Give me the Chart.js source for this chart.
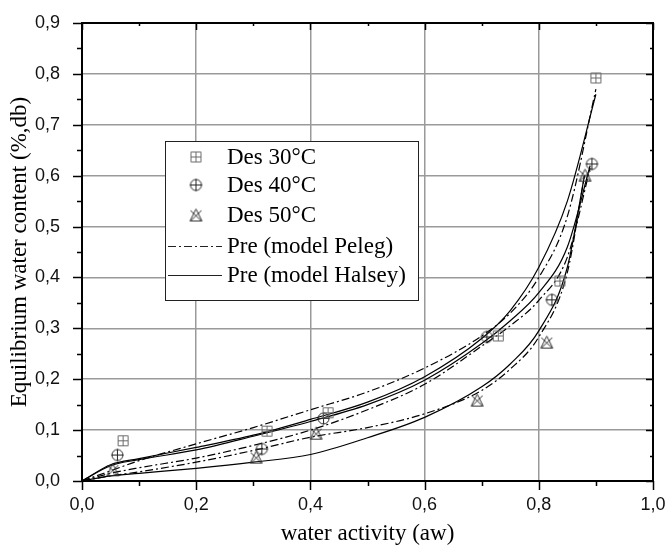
<!DOCTYPE html>
<html>
<head>
<meta charset="utf-8">
<script src="https://cdn.jsdelivr.net/npm/chart.js@4/dist/chart.umd.min.js"></script>
<style>
  html, body { margin: 0; padding: 0; background: #fff; }
  #wrap { width: 668px; height: 551px; }
</style>
</head>
<body>
<div id="wrap"><canvas id="sorption"></canvas></div>
<script>
// measured points (water activity vs. equilibrium water content)
const aw30 = [0.072, 0.324, 0.431, 0.729, 0.837, 0.900];
const ewc30 = [0.079, 0.098, 0.134, 0.285, 0.393, 0.792];
const aw40 = [0.062, 0.315, 0.423, 0.709, 0.823, 0.893];
const ewc40 = [0.051, 0.063, 0.123, 0.283, 0.356, 0.623];
const aw50 = [0.054, 0.305, 0.410, 0.692, 0.814, 0.881];
const ewc50 = [0.022, 0.047, 0.094, 0.159, 0.273, 0.601];

// model curves
const fitAw30 = [0, 0.05, 0.1, 0.2, 0.3, 0.4, 0.5, 0.6, 0.7, 0.75, 0.8, 0.85, 0.9];
const halsey30 = [0, 0.032, 0.044, 0.066, 0.09, 0.121, 0.155, 0.205, 0.28, 0.335, 0.42, 0.55, 0.76];
const peleg30 = [0, 0.02, 0.04, 0.073, 0.105, 0.14, 0.175, 0.222, 0.285, 0.33, 0.40, 0.52, 0.77];
const fitAw40 = [0, 0.05, 0.1, 0.2, 0.3, 0.4, 0.5, 0.6, 0.7, 0.75, 0.8, 0.85, 0.89];
const halsey40 = [0, 0.03, 0.042, 0.061, 0.088, 0.117, 0.15, 0.198, 0.27, 0.315, 0.37, 0.46, 0.62];
const peleg40 = [0, 0.015, 0.026, 0.045, 0.07, 0.1, 0.14, 0.19, 0.265, 0.305, 0.355, 0.44, 0.615];
const fitAw50 = [0, 0.05, 0.1, 0.2, 0.3, 0.4, 0.5, 0.6, 0.7, 0.75, 0.8, 0.85, 0.88];
const halsey50 = [0, 0.01, 0.015, 0.025, 0.037, 0.052, 0.085, 0.125, 0.185, 0.23, 0.295, 0.42, 0.6];
const peleg50 = [0, 0.01, 0.018, 0.037, 0.06, 0.086, 0.105, 0.132, 0.178, 0.22, 0.283, 0.41, 0.6];

const legendLabels = ['Des 30°C', 'Des 40°C', 'Des 50°C', 'Pre (model Peleg)', 'Pre (model Halsey)'];

const pairs = (xs, ys) => xs.map((x, i) => ({ x: x, y: ys[i] }));
const comma = v => Number(v).toFixed(1).replace('.', ',');
const pelegDash = [8, 3, 2, 3];
const serif = '"Liberation Serif", "Times New Roman", serif';
const sans = '"Liberation Sans", Arial, sans-serif';

// little hand drawn marker glyphs, used as point styles
const makeMarker = (kind) => {
    const c = document.createElement('canvas');
    c.width = 15; c.height = 15;
    const g = c.getContext('2d');
    g.lineWidth = 1;
    g.beginPath();
    if (kind === 'square') {
        g.strokeStyle = '#6a6a6a';
        g.rect(2.5, 2.5, 10, 10);
        g.moveTo(7.5, 2.5); g.lineTo(7.5, 12.5);
        g.moveTo(2.5, 7.5); g.lineTo(12.5, 7.5);
    } else if (kind === 'circle') {
        g.strokeStyle = '#222';
        g.arc(7.5, 7.5, 5.5, 0, Math.PI * 2);
        g.moveTo(7.5, 1.5); g.lineTo(7.5, 13.5);
        g.moveTo(1.5, 7.5); g.lineTo(13.5, 7.5);
    } else {
        g.strokeStyle = '#333';
        g.moveTo(7.5, 1.5); g.lineTo(13.5, 13.5); g.lineTo(1.5, 13.5); g.closePath();
        g.moveTo(2, 3); g.lineTo(13, 13.5);
        g.moveTo(13, 3); g.lineTo(2, 13.5);
    }
    g.stroke();
    return c;
};
const markers = [makeMarker('square'), makeMarker('circle'), makeMarker('triangle')];

const pointSet = (xs, ys, marker) => ({
    type: 'scatter',
    data: pairs(xs, ys),
    pointStyle: marker,
    pointRadius: 7,
    showLine: false,
    order: 0
});
const curveSet = (xs, ys, dash) => ({
    type: 'line',
    data: pairs(xs, ys),
    borderColor: '#000',
    borderWidth: 1.2,
    borderDash: dash,
    pointRadius: 0,
    cubicInterpolationMode: 'monotone',
    fill: false,
    order: 1
});

// frame, minor/major ticks and the boxed legend
const framePlugin = {
    id: 'frame',
    afterDraw(chart) {
        const { ctx, chartArea: a, scales: { x, y } } = chart;
        ctx.save();
        ctx.strokeStyle = '#000';
        ctx.lineWidth = 2;
        ctx.strokeRect(a.left, a.top, a.right - a.left, a.bottom - a.top);
        ctx.lineWidth = 1.5;
        ctx.beginPath();
        for (let i = 0; i <= 10; i++) {
            const px = Math.round(x.getPixelForValue(i / 10)) + 0.5;
            const len = i % 2 === 0 ? 9 : 5;
            ctx.moveTo(px, a.bottom); ctx.lineTo(px, a.bottom + len);
            ctx.moveTo(px, a.top); ctx.lineTo(px, a.top + len - 2);
        }
        for (let i = 0; i <= 18; i++) {
            const py = Math.round(y.getPixelForValue(i / 20)) + 0.5;
            const len = i % 2 === 0 ? 9 : 5;
            ctx.moveTo(a.left, py); ctx.lineTo(a.left - len, py);
            ctx.moveTo(a.right, py); ctx.lineTo(a.right - len + 2, py);
        }
        ctx.stroke();

        // legend box
        const bx = 165, by = 141, bw = 253, bh = 159;
        ctx.fillStyle = '#fff';
        ctx.fillRect(bx, by, bw, bh);
        ctx.lineWidth = 1;
        ctx.strokeStyle = '#222';
        ctx.strokeRect(bx + 0.5, by + 0.5, bw, bh);
        const rows = [157, 185, 215, 246, 275];
        ctx.font = '23px ' + serif;
        ctx.textBaseline = 'middle';
        ctx.fillStyle = '#000';
        rows.forEach((ry, i) => {
            if (i < 3) {
                ctx.drawImage(markers[i], 196 - 7.5, ry - 7.5);
            } else {
                ctx.beginPath();
                ctx.lineWidth = 1.2;
                ctx.setLineDash(i === 3 ? pelegDash : []);
                ctx.moveTo(168, ry + 0.5); ctx.lineTo(222, ry + 0.5);
                ctx.stroke();
                ctx.setLineDash([]);
            }
            ctx.fillText(legendLabels[i], 227, ry + 1);
        });
        ctx.restore();
    }
};

new Chart(document.getElementById('sorption'), {
    data: {
        datasets: [
            pointSet(aw30, ewc30, markers[0]),
            pointSet(aw40, ewc40, markers[1]),
            pointSet(aw50, ewc50, markers[2]),
            curveSet(fitAw30, peleg30, pelegDash),
            curveSet(fitAw30, halsey30, []),
            curveSet(fitAw40, peleg40, pelegDash),
            curveSet(fitAw40, halsey40, []),
            curveSet(fitAw50, peleg50, pelegDash),
            curveSet(fitAw50, halsey50, [])
        ]
    },
    options: {
        responsive: true,
        maintainAspectRatio: false,
        animation: false,
        layout: { autoPadding: false, padding: { top: 23, right: 15 } },
        plugins: { legend: { display: false }, tooltip: { enabled: false } },
        scales: {
            x: {
                type: 'linear',
                min: 0,
                max: 1,
                afterFit: s => { s.height = 70; },
                ticks: {
                    stepSize: 0.2,
                    padding: 0,
                    color: '#111',
                    font: { family: sans, size: 18 },
                    callback: comma
                },
                // transparent tick marks only keep the label gap; real ticks come from the plugin
                grid: { color: '#9a9a9a', lineWidth: 1.5, drawTicks: true, tickLength: 13, tickColor: 'rgba(0,0,0,0)' },
                border: { display: false },
                title: {
                    display: true,
                    text: 'water activity (aw)',
                    color: '#000',
                    font: { family: serif, size: 23 },
                    padding: { top: 0, bottom: 3 }
                }
            },
            y: {
                type: 'linear',
                min: 0,
                max: 0.9,
                afterFit: s => { s.width = 82; },
                ticks: {
                    stepSize: 0.1,
                    padding: 0,
                    color: '#111',
                    font: { family: sans, size: 18 },
                    callback: comma
                },
                grid: { color: '#9a9a9a', lineWidth: 1.5, drawTicks: true, tickLength: 22, tickColor: 'rgba(0,0,0,0)' },
                border: { display: false },
                title: {
                    display: true,
                    text: 'Equilibrium water content (%,db)',
                    color: '#000',
                    font: { family: serif, size: 23 },
                    padding: { top: 6, bottom: 0 }
                }
            }
        }
    },
    plugins: [framePlugin]
});
</script>
</body>
</html>
